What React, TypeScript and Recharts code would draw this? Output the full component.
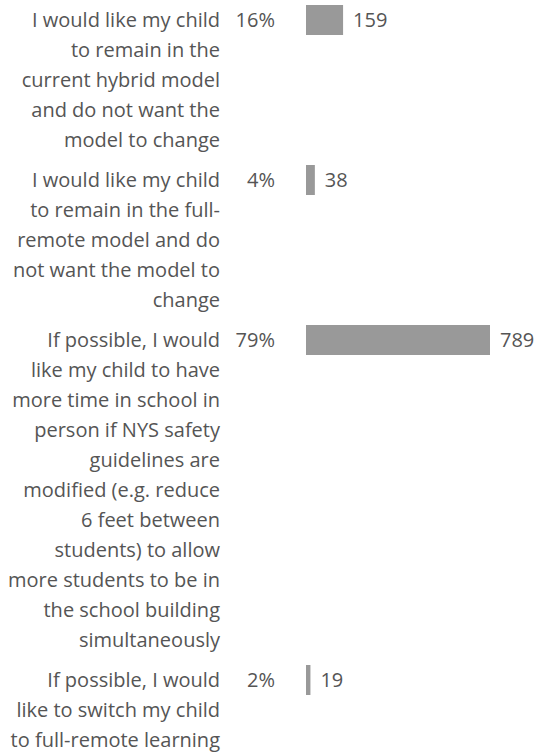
import * as React from "react"
import { BarChart, Bar, XAxis, YAxis, LabelList } from "recharts"

// --- Data ---
const answers = [
  ["I would like my child", "to remain in the", "current hybrid model", "and do not want the", "model to change"],
  ["I would like my child", "to remain in the full-", "remote model and do", "not want the model to", "change"],
  [
    "If possible, I would",
    "like my child to have",
    "more time in school in",
    "person if NYS safety",
    "guidelines are",
    "modified (e.g. reduce",
    "6 feet between",
    "students) to allow",
    "more students to be in",
    "the school building",
    "simultaneously",
  ],
  ["If possible, I would", "like to switch my child", "to full-remote learning"],
]
const counts = [159, 38, 789, 19]

// --- Theme ---
const TEXT = "#555555"
const BAR = "#999999"
const FONT = "'Open Sans', sans-serif"
const FONT_SIZE = 20
const LINE = 30 // px per text line
const ROW_GAP = 1 / 3 // in line units

const total = counts.reduce((a, b) => a + b, 0)

// row position on the y axis (in "line" units), derived from how many lines each label wraps to
let cursor = 0
const rows = answers.map((lines, i) => {
  const pos = cursor + 0.5
  cursor += lines.length + ROW_GAP
  return {
    lines,
    count: counts[i],
    pct: Math.round((counts[i] / total) * 100) + "%",
    pos,
  }
})
const yMax = cursor

const LabelTick = (props: any) => {
  const { x, y, payload } = props
  const row = rows.find((r) => r.pos === payload.value)
  if (!row) return null
  return (
    <g>
      <text x={x - 86} y={y} textAnchor="end" fill={TEXT} fontSize={FONT_SIZE} fontFamily={FONT}>
        {row.lines.map((l, i) => (
          <tspan key={i} x={x - 86} dy={i === 0 ? 7 : LINE}>
            {l}
          </tspan>
        ))}
      </text>
      <text x={x - 31} y={y + 7} textAnchor="end" fill={TEXT} fontSize={FONT_SIZE} fontFamily={FONT}>
        {row.pct}
      </text>
    </g>
  )
}

export default function App() {
  return (
    <div style={{ position: "fixed", left: 0, top: 0, width: 538, height: 753, overflow: "hidden", background: "#fff" }}>
      <BarChart
        width={538}
        height={5 + yMax * LINE}
        data={rows}
        layout="vertical"
        margin={{ top: 5, right: 48, bottom: 0, left: 0 }}
      >
        <XAxis type="number" dataKey="count" hide domain={[0, Math.max(...counts)]} />
        <YAxis
          type="number"
          dataKey="pos"
          domain={[0, yMax]}
          ticks={rows.map((r) => r.pos)}
          interval={0}
          width={306}
          axisLine={false}
          tickLine={false}
          tickSize={0}
          tickMargin={0}
          tick={<LabelTick />}
        />
        <Bar dataKey="count" fill={BAR} barSize={30} isAnimationActive={false}>
          <LabelList dataKey="count" position="right" offset={10} fill={TEXT} fontSize={FONT_SIZE} fontFamily={FONT} />
        </Bar>
      </BarChart>
    </div>
  )
}
